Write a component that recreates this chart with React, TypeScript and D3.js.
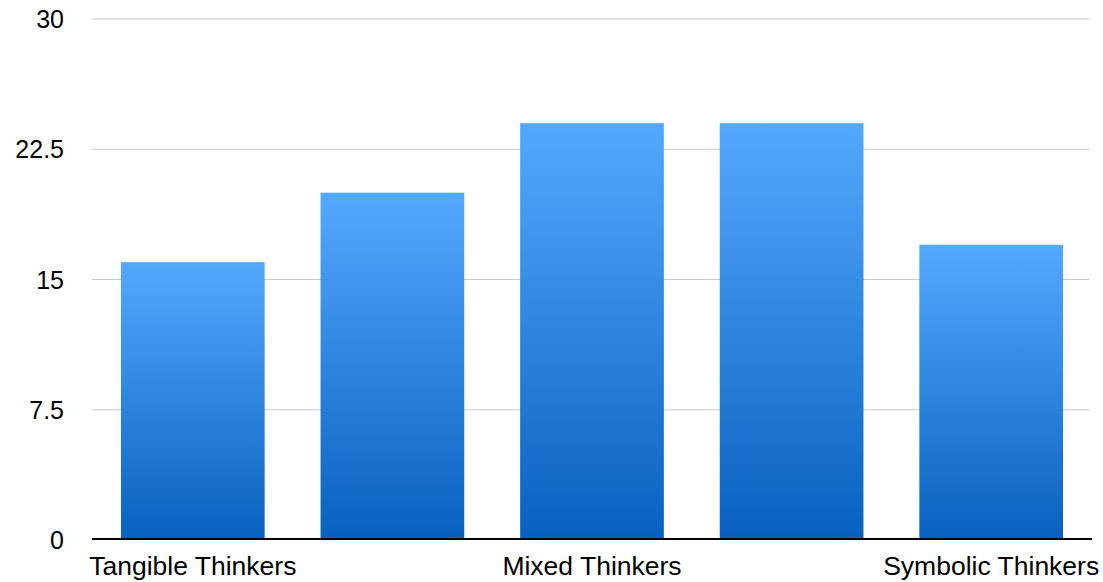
import React from "react";
import * as d3 from "d3";

const categories = ["Tangible Thinkers", "", "Mixed Thinkers", "", "Symbolic Thinkers"];
const values = [16, 20, 24, 24, 17];
const yTicks = [0, 7.5, 15, 22.5, 30];
const yTickLabels = ["0", "7.5", "15", "22.5", "30"];

const W = 1103;
const H = 582;
const FONT = "'Liberation Sans', Arial, Helvetica, sans-serif";

export default function App() {
  const keys = categories.map((_, i) => String(i));
  const x = d3.scaleBand<string>().domain(keys).range([93, 1091]).paddingInner(0.28).paddingOuter(0.14);
  const y = d3.scaleLinear().domain([0, 30]).range([540, 19]);

  return (
    <svg
      width={W}
      height={H}
      style={{ position: "absolute", left: 0, top: 0, background: "#fff" }}
      fontFamily={FONT}
    >
      <defs>
        <linearGradient id="barFill" x1="0" y1="0" x2="0" y2="1">
          <stop offset="0%" stopColor="#53a9fc" />
          <stop offset="100%" stopColor="#0861bf" />
        </linearGradient>
      </defs>

      {yTicks.map((t, i) => (
        <g key={t}>
          {t !== 0 && (
            <line x1={92} x2={1089} y1={y(t)} y2={y(t)} stroke="#c9c9c9" strokeWidth={1.2} />
          )}
          <text x={64} y={y(t)} dy="0.36em" textAnchor="end" fontSize={25} fill="#000">
            {yTickLabels[i]}
          </text>
        </g>
      ))}

      {values.map((v, i) => (
        <rect
          key={i}
          x={x(String(i))!}
          y={y(v)}
          width={x.bandwidth()}
          height={y(0) - y(v)}
          fill="url(#barFill)"
        />
      ))}

      <line x1={92} x2={1092} y1={y(0) - 1} y2={y(0) - 1} stroke="#000" strokeWidth={2} />

      {categories.map((c, i) =>
        c ? (
          <text
            key={i}
            x={x(String(i))! + x.bandwidth() / 2}
            y={575}
            textAnchor="middle"
            fontSize={26.5}
            fill="#000"
          >
            {c}
          </text>
        ) : null
      )}
    </svg>
  );
}
